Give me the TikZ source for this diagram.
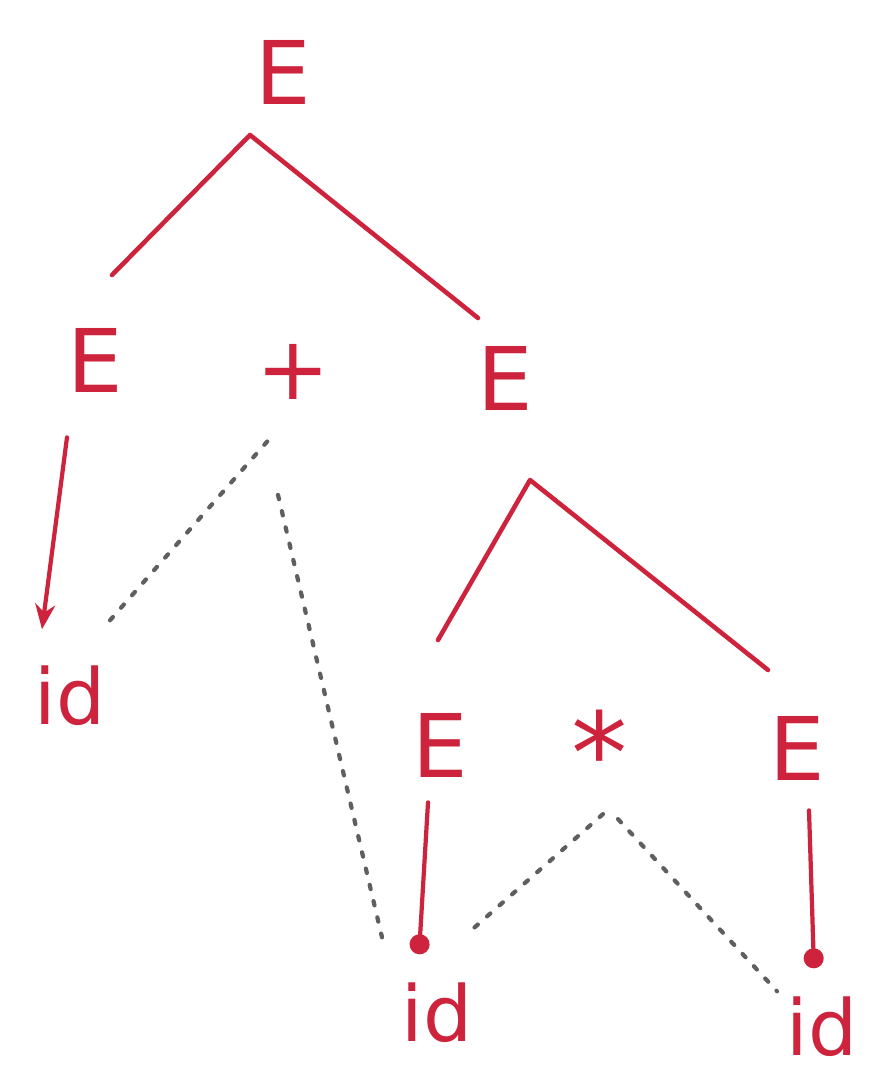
\documentclass[tikz,border=0pt]{standalone}
\usepackage{fontspec}
\setsansfont{DejaVu Sans}
\usetikzlibrary{calc, positioning}
\usetikzlibrary{arrows.meta}

\definecolor{chalk}{RGB}{205,35,60}
\definecolor{pencil}{RGB}{95,95,95}

\tikzset{
  sym/.style={text=chalk, font=\sffamily\fontsize{50}{56}\selectfont, inner sep=0pt},
  leaf/.style={sym, font=\sffamily\fontsize{44}{48}\selectfont, text depth=0pt},
  branch/.style={draw=chalk, line width=2.6pt, line cap=round, line join=round},
  derive/.style={draw=chalk, line width=2.4pt, line cap=round},
  order/.style={draw=pencil, line width=2.4pt, dash pattern=on 2.5pt off 7pt, line cap=round}
}

\begin{document}
\begin{tikzpicture}[x=0.02cm, y=-0.02cm]
\useasboundingbox (0,0) rectangle (880,1074);

% tree corners
\coordinate (top) at (250,135);
\coordinate (topL) at (112,275);
\coordinate (topR) at (478,318);
\coordinate (sub) at (530,480);
\coordinate (subL) at (438,640);
\coordinate (subR) at (768,670);

% symbols
\node[sym] (E0) at (283,72) {E};
\node[sym] (E1) at (95,360) {E};
\node[sym] (plus) at (293,372) {+};
\node[sym] (E2) at (505,378) {E};
\node[sym] (E3) at (440,745) {E};
\node[sym, font=\sffamily\fontsize{64}{70}\selectfont] (times) at (600,752) {*};
\node[sym] (E4) at (797,748) {E};
\node[leaf] (id1) at (70,695) {id};
\node[leaf] (id2) at (437,1012) {id};
\node[leaf] (id3) at (822,1026) {id};

\draw[branch] (topL) -- (top) -- (topR);
\draw[branch] (subL) -- (sub) -- (subR);

\draw[derive, -{Stealth[length=5mm, width=4mm]}] (E1.south) ++(-28,45) -- ($(id1.north)+(-28,-36)$);
\draw[derive, -{Circle[length=4mm]}] (E3.south) ++(-12,25) -- ($(id2.north)+(-18,-28)$);
\draw[derive, -{Circle[length=4mm]}] (E4.south) ++(12,30) -- ($(id3.north)+(-8,-28)$);

% evaluation order
\draw[order] ($(id1.north)+(40,-45)$) -- ($(plus.south)+(-20,35)$);
\draw[order] ($(plus.south)+(-15,95)$) -- ($(id2.north)+(-55,-45)$);
\draw[order] ($(times.south)+(3,20)$) -- ($(id2.north)+(32,-50)$);
\draw[order] ($(times.south)+(18,25)$) -- ($(id3.north)+(-45,-5)$);
\end{tikzpicture}
\end{document}
